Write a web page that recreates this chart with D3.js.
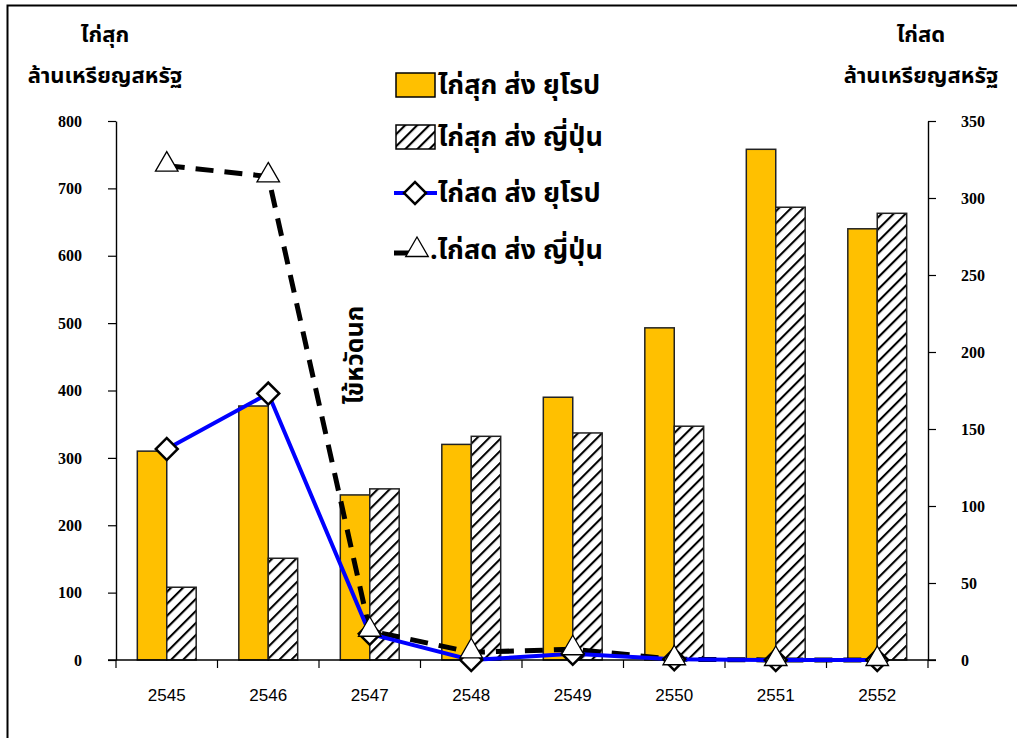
<!DOCTYPE html>
<html>
<head>
<meta charset="utf-8">
<script src="https://cdn.jsdelivr.net/npm/d3@7"></script>
<style>
  html, body { margin: 0; padding: 0; background: #fff; }
  svg { display: block; }
  .thai { font-family: Tahoma, "Noto Sans Thai", "DejaVu Sans", sans-serif; fill: #000; font-weight: bold; }
</style>
</head>
<body>
<script>
// Years (Buddhist era)
const years = ["2545", "2546", "2547", "2548", "2549", "2550", "2551", "2552"];
// Cooked chicken exports, million USD (left axis)
const cookedEU = [310, 377, 245, 320, 390, 493, 758, 640];
const cookedJP = [108, 151, 254, 332, 337, 347, 672, 663];
// Fresh chicken exports, million USD (right axis)
const freshEU = [137, 173, 17, 0, 4, 0.5, 0, 0];
const freshJP = [321, 314, 19, 5, 7, 0.5, 0, 0];
// Axis ticks
const leftTicks = [0, 100, 200, 300, 400, 500, 600, 700, 800];
const rightTicks = [0, 50, 100, 150, 200, 250, 300, 350];

const W = 1017, H = 738;
const svg = d3.select("body").append("svg").attr("width", W).attr("height", H);

// Hatch pattern for Japan cooked-chicken bars
const defs = svg.append("defs");
const pat = defs.append("pattern").attr("id", "hatch")
  .attr("patternUnits", "userSpaceOnUse").attr("width", 8.5).attr("height", 8.5)
  .attr("patternTransform", "rotate(45)");
pat.append("rect").attr("width", 8.5).attr("height", 8.5).attr("fill", "#fff");
pat.append("line").attr("x1", 0).attr("y1", 0).attr("x2", 0).attr("y2", 8.5)
  .attr("stroke", "#000").attr("stroke-width", 4.2);

// Outer frame
svg.append("rect").attr("x", 7.5).attr("y", 5.5).attr("width", 1015).attr("height", 760)
  .attr("fill", "none").attr("stroke", "#000").attr("stroke-width", 2);

const plot = { left: 116, right: 928, top: 121, bottom: 660 };

const x = d3.scaleBand().domain(years).range([plot.left, plot.right]).paddingInner(0).paddingOuter(0);
const yL = d3.scaleLinear().domain([0, 800]).range([plot.bottom, plot.top]);
const yR = d3.scaleLinear().domain([0, 350]).range([plot.bottom, plot.top]);

const groupW = x.bandwidth() * 0.58;
const barW = groupW / 2;

// Bars
const bars = svg.append("g");
years.forEach((yr, i) => {
  const cx = x(yr) + x.bandwidth() / 2;
  bars.append("rect")
    .attr("x", cx - barW).attr("y", yL(cookedEU[i]))
    .attr("width", barW).attr("height", yL(0) - yL(cookedEU[i]))
    .attr("fill", "#FFC000").attr("stroke", "#222").attr("stroke-width", 1.5);
  bars.append("rect")
    .attr("x", cx).attr("y", yL(cookedJP[i]))
    .attr("width", barW).attr("height", yL(0) - yL(cookedJP[i]))
    .attr("fill", "url(#hatch)").attr("stroke", "#222").attr("stroke-width", 1.5);
});

// Left axis
const gL = svg.append("g").attr("transform", `translate(${plot.left},0)`)
  .call(d3.axisLeft(yL).tickValues(leftTicks).tickSize(8).tickPadding(26).tickSizeOuter(0));
// Right axis
const gR = svg.append("g").attr("transform", `translate(${plot.right},0)`)
  .call(d3.axisRight(yR).tickValues(rightTicks).tickSize(8).tickPadding(25).tickSizeOuter(0));
// Bottom axis (ticks at category boundaries)
const gB = svg.append("g").attr("transform", `translate(0,${plot.bottom})`)
  .call(d3.axisBottom(x).tickSize(0).tickPadding(29));
gB.append("g").selectAll("line").data(years.concat(["end"])).join("line")
  .attr("x1", (d, i) => plot.left + i * x.bandwidth()).attr("x2", (d, i) => plot.left + i * x.bandwidth())
  .attr("y1", 0).attr("y2", 8).attr("stroke", "#000").attr("stroke-width", 1.2);
[gL, gR, gB].forEach(g => {
  g.select(".domain").attr("stroke", "#000").attr("stroke-width", 1.4);
  g.selectAll(".tick line").attr("stroke", "#000").attr("stroke-width", 1.2);
  g.selectAll("text").attr("fill", "#000");
});
[gL, gR].forEach(g => g.selectAll(".tick text")
  .attr("font-family", "'Liberation Serif', 'Times New Roman', serif")
  .attr("font-weight", "bold").attr("font-size", 16));
gB.selectAll(".tick text")
  .attr("font-family", "'Liberation Sans', Arial, sans-serif").attr("font-size", 17);
gB.select(".domain").attr("d", `M${plot.left - 8},0H${plot.right + 8}`);

const cx = d => x(d) + x.bandwidth() / 2;

// Fresh chicken to Japan: dashed black line with triangles
const lineJP = d3.line().x((d, i) => cx(years[i])).y(d => yR(d));
svg.append("path").datum(freshJP).attr("d", lineJP)
  .attr("fill", "none").attr("stroke", "#000").attr("stroke-width", 5)
  .attr("stroke-dasharray", "18,11");

// Fresh chicken to Europe: blue line with diamonds
const lineEU = d3.line().x((d, i) => cx(years[i])).y(d => yR(d));
svg.append("path").datum(freshEU).attr("d", lineEU)
  .attr("fill", "none").attr("stroke", "#0000FF").attr("stroke-width", 4);

const diamond = d3.symbol().type(d3.symbolSquare).size(240);
svg.append("g").selectAll("path").data(freshEU).join("path")
  .attr("d", diamond)
  .attr("transform", (d, i) => `translate(${cx(years[i])},${yR(d)}) rotate(45)`)
  .attr("fill", "#fff").attr("stroke", "#000").attr("stroke-width", 2.5);

const tri = d3.symbol().type(d3.symbolTriangle).size(220);
svg.append("g").selectAll("path").data(freshJP).join("path")
  .attr("d", tri)
  .attr("transform", (d, i) => `translate(${cx(years[i])},${yR(d) - 1})`)
  .attr("fill", "#fff").attr("stroke", "#000").attr("stroke-width", 1.3);

// Axis titles
const title = (tx, ty, s) => svg.append("text").attr("class", "thai").attr("x", tx).attr("y", ty)
  .attr("text-anchor", "middle").attr("font-size", 22).text(s);
title(105, 42, "ไก่สุก");
title(105, 83, "ล้านเหรียญสหรัฐ");
title(921, 42, "ไก่สด");
title(921, 83, "ล้านเหรียญสหรัฐ");

// Annotation
svg.append("text").attr("class", "thai")
  .attr("transform", "translate(363,355) rotate(-90)").attr("text-anchor", "middle")
  .attr("font-size", 25).text("ไข้หวัดนก");

// Legend
const legendLabels = ["ไก่สุก ส่ง ยุโรป", "ไก่สุก ส่ง ญี่ปุ่น", "ไก่สด ส่ง ยุโรป", ".ไก่สด ส่ง ญี่ปุ่น"];
const leg = svg.append("g");
const rowY = [85, 137, 193, 250];
leg.append("rect").attr("x", 396).attr("y", rowY[0] - 12).attr("width", 39).attr("height", 24)
  .attr("fill", "#FFC000").attr("stroke", "#000").attr("stroke-width", 1.5);
leg.append("rect").attr("x", 396).attr("y", rowY[1] - 12).attr("width", 39).attr("height", 24)
  .attr("fill", "url(#hatch)").attr("stroke", "#000").attr("stroke-width", 1.5);
leg.append("line").attr("x1", 394).attr("x2", 437).attr("y1", rowY[2]).attr("y2", rowY[2])
  .attr("stroke", "#0000FF").attr("stroke-width", 4);
leg.append("path").attr("d", diamond)
  .attr("transform", `translate(415,${rowY[2]}) rotate(45)`)
  .attr("fill", "#fff").attr("stroke", "#000").attr("stroke-width", 2.5);
leg.append("line").attr("x1", 394).attr("x2", 410).attr("y1", rowY[3] + 3).attr("y2", rowY[3] + 3)
  .attr("stroke", "#000").attr("stroke-width", 5);
leg.append("path").attr("d", tri)
  .attr("transform", `translate(417,${rowY[3]})`)
  .attr("fill", "#fff").attr("stroke", "#000").attr("stroke-width", 1.3);
leg.selectAll("text.lbl").data(legendLabels).join("text").attr("class", "thai lbl")
  .attr("x", (d, i) => i === 3 ? 430 : 438).attr("y", (d, i) => rowY[i] + 9)
  .attr("font-size", 27).text(d => d);
</script>
</body>
</html>
